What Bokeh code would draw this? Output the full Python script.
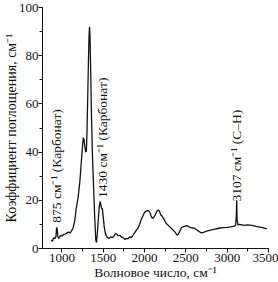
from bokeh.plotting import figure
from bokeh.models import SingleIntervalTicker, Range1d, ColumnDataSource
from bokeh.core.properties import value
from bokeh.embed import file_html
from bokeh.resources import INLINE
import math

wavenumber = [870, 885, 900, 915, 928, 935, 942, 950, 962, 975, 990, 1005, 1020, 1040, 1060, 1080,
              1100, 1118, 1135, 1155, 1175, 1195, 1215, 1235, 1250, 1260, 1268, 1278, 1288, 1296,
              1303, 1312, 1320, 1328, 1334, 1340, 1348, 1358, 1370, 1385, 1398, 1410, 1418, 1428,
              1440, 1452, 1462, 1470, 1480, 1490, 1500, 1512, 1525, 1540, 1555, 1570, 1590, 1610,
              1630, 1650, 1665, 1680, 1700, 1720, 1740, 1760, 1780, 1800, 1820, 1840, 1860, 1880,
              1900, 1920, 1940, 1960, 1980, 2000, 2020, 2040, 2060, 2080, 2095, 2110, 2130, 2150,
              2165, 2180, 2195, 2210, 2230, 2260, 2290, 2320, 2350, 2375, 2395, 2410, 2430, 2450,
              2480, 2510, 2540, 2570, 2600, 2630, 2660, 2690, 2720, 2750, 2800, 2850, 2900, 2950,
              3000, 3040, 3070, 3090, 3100, 3110, 3115, 3120, 3130, 3150, 3200, 3250, 3300, 3350,
              3400, 3450, 3480]
absorption = [3.5, 3.0, 4.5, 4.0, 5.0, 8.5, 8.5, 5.0, 4.2, 5.0, 5.5, 5.2, 5.8, 6.0, 6.4, 6.8,
              6.5, 7.4, 8.5, 11.5, 17, 21, 27, 36, 43, 46, 45, 42, 40, 40.5,
              48, 62, 76, 88, 92, 88, 74, 55, 38, 24, 12, 3.5, 2.5, 6,
              12, 17.5, 19.5, 18.5, 16.5, 16.5, 13, 9, 6.5, 5, 4.5, 4.2, 4.8, 4.5,
              5.2, 6.2, 6, 5.2, 5.5, 4.8, 4.5, 3.8, 4.2, 4.0, 4.8, 4.5, 5.5, 6.5,
              7.5, 8.5, 10, 12, 13.5, 15, 15.5, 15.8, 15.2, 13.5, 12.5, 12.8, 14, 15.5,
              16, 15.5, 14, 13.5, 12.5, 10.5, 9.5, 8.5, 7.5, 6.5, 5.5, 6, 7.5, 8.8,
              9.2, 9.5, 9, 8.6, 8.5, 7.8, 7, 6.5, 6.8, 7.2, 7.6, 8, 8.4, 8.7,
              8.8, 9, 9.2, 9.3, 9.6, 13, 20, 12, 9.8, 10, 9.6, 9.8, 9.6, 9.2,
              8.9, 8.5, 8.2]

ann_x = [935, 1490, 3118]
ann_y = [10.7, 21.0, 19.5]
ann_text = ["875 см⁻¹ (Карбонат)", "1430 см⁻¹ (Карбонат)", "3107 см⁻¹ (C–H)"]

FONT = "Liberation Serif"

p = figure(width=278, height=282, output_backend="svg", toolbar_location=None,
           x_range=Range1d(765, 3500), y_range=Range1d(0, 100),
           min_border_left=35, min_border_right=10, min_border_top=7, min_border_bottom=34)
p.outline_line_color = None
p.grid.visible = False
p.background_fill_color = "white"
p.border_fill_color = "white"

p.line(wavenumber, absorption, line_color="#111111", line_width=1.3)

src = ColumnDataSource(dict(x=ann_x, y=ann_y, t=ann_text))
p.text(x="x", y="y", text="t", source=src, angle=math.pi / 2, text_align="left",
       text_baseline="middle", text_font=value(FONT), text_font_size="13.5px",
       text_color="#111111")

p.xaxis.ticker = SingleIntervalTicker(interval=500, num_minor_ticks=2)
p.yaxis.ticker = SingleIntervalTicker(interval=20, num_minor_ticks=2)
p.xaxis.axis_label = "Волновое число, см⁻¹"
p.yaxis.axis_label = "Коэффициент поглощения, см⁻¹"
for ax in (p.xaxis, p.yaxis):
    ax.axis_label_text_font = FONT
    ax.axis_label_text_font_style = "normal"
    ax.axis_label_text_font_size = "13.5px"
    ax.major_label_text_font = FONT
    ax.major_label_text_font_size = "13px"
    ax.axis_line_color = "#111111"
    ax.major_tick_line_color = "#111111"
    ax.minor_tick_line_color = "#111111"
    ax.major_tick_in = 0
    ax.major_tick_out = 4
    ax.minor_tick_in = 0
    ax.minor_tick_out = 3
    ax.major_label_text_color = "#111111"
    ax.axis_label_text_color = "#111111"
p.yaxis.axis_label_text_font_size = "14px"
p.yaxis.major_label_standoff = 0
p.yaxis.axis_label_standoff = -3
p.xaxis.major_label_standoff = 1
p.xaxis.axis_label_standoff = 0

open("out.html", "w").write(file_html(p, INLINE))
